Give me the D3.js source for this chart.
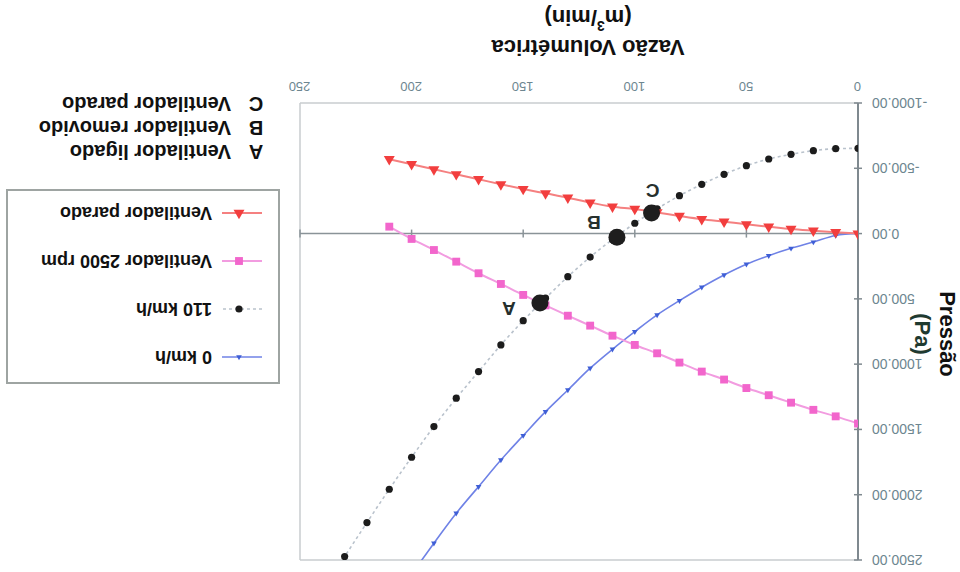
<!DOCTYPE html>
<html>
<head>
<meta charset="utf-8">
<script src="https://cdn.jsdelivr.net/npm/d3@7"></script>
<style>
  body { margin: 0; background: #fff; }
  svg { display: block; font-family: "Liberation Sans", Arial, sans-serif; }
</style>
</head>
<body>
<script>
// DATA (vazão in m3/min, pressão in Pa)
const flowShort = [0, 10, 20, 30, 40, 50, 60, 70, 80, 90, 100, 110, 120, 130, 140, 150, 160, 170, 180, 190, 200, 210];
const flowKmh0 = [0, 10, 20, 30, 40, 50, 60, 70, 80, 90, 100, 110, 120, 130, 140, 150, 160, 170, 180, 190, 200];
const flowKmh110 = [0, 10, 20, 30, 40, 50, 60, 70, 80, 90, 100, 110, 120, 130, 140, 150, 160, 170, 180, 190, 200, 210, 220, 230];

const kmh0 = [0, 15, 65, 113, 169, 235, 317, 411, 514, 623, 751, 886, 1031, 1198, 1364, 1547, 1734, 1938, 2142, 2371, 2610];
const kmh110 = [-653, -650, -635, -607, -571, -520, -454, -377, -290, -190, -79, 45, 180, 330, 495, 667, 853, 1057, 1261, 1478, 1713, 1958, 2213, 2474];
const vent2500 = [1455, 1400, 1350, 1295, 1238, 1183, 1118, 1057, 988, 917, 853, 782, 705, 629, 550, 470, 386, 304, 215, 126, 41, -53];
const ventParado = [0, -10, -22, -35, -53, -71, -91, -110, -135, -162, -188, -206, -237, -275, -308, -341, -377, -416, -454, -492, -531, -569];

const opPoints = [
  { label: "A", x: 142.5, y: 532 },
  { label: "B", x: 108, y: 28 },
  { label: "C", x: 92.5, y: -158 }
];
const opNotes = [
  { label: "A", text: "Ventilador ligado" },
  { label: "B", text: "Ventilador removido" },
  { label: "C", text: "Ventilador parado" }
];

const xTicks = [0, 50, 100, 150, 200, 250];
const yTicks = [-1000, -500, 0, 500, 1000, 1500, 2000, 2500];

const series = [
  { name: "0 km/h", xs: flowKmh0, ys: kmh0, line: "#6f82e6", width: 1.6, dash: null, marker: "tri-small", fill: "#3f5fd6" },
  { name: "110 km/h", xs: flowKmh110, ys: kmh110, line: "#b9c2cc", width: 1.6, dash: "3,3", marker: "dot", fill: "#1c1c1c" },
  { name: "Ventilador 2500 rpm", xs: flowShort, ys: vent2500, line: "#f29ce0", width: 2, dash: null, marker: "square", fill: "#f266cc" },
  { name: "Ventilador parado", xs: flowShort, ys: ventParado, line: "#f58080", width: 2, dash: null, marker: "tri", fill: "#f23e3e" }
];

// CHART SETUP (drawn upright, then turned 180 degrees like the reference)
const width = 960, height = 572;
const plot = { left: 102, right: 660, top: 12, bottom: 469 };

const xScale = d3.scaleLinear().domain([0, 250]).range([plot.left, plot.right]);
const yScale = d3.scaleLinear().domain([-1000, 2500]).range([plot.bottom, plot.top]);

const svg = d3.select("body").append("svg").attr("width", width).attr("height", height);
svg.append("rect").attr("width", width).attr("height", height).attr("fill", "#fff");

const chart = svg.append("g").attr("transform", `rotate(180 ${width / 2} ${height / 2})`);

svg.append("defs").append("clipPath").attr("id", "plot-clip")
  .append("rect")
  .attr("x", plot.left).attr("y", plot.top)
  .attr("width", plot.right - plot.left).attr("height", plot.bottom - plot.top);

// PLOT FRAME
const frame = chart.append("g").attr("stroke", "#c9cccf").attr("stroke-width", 1.5).attr("fill", "none");
frame.append("line").attr("x1", plot.left).attr("x2", plot.right).attr("y1", plot.top).attr("y2", plot.top);
frame.append("line").attr("x1", plot.left).attr("x2", plot.right).attr("y1", plot.bottom).attr("y2", plot.bottom);
frame.append("line").attr("x1", plot.right).attr("x2", plot.right).attr("y1", plot.top).attr("y2", plot.bottom);

// AXES
const yAxis = d3.axisLeft(yScale).tickValues(yTicks).tickSize(0).tickPadding(14)
  .tickFormat(d => d.toFixed(2));
const xAxis = d3.axisBottom(xScale).tickValues(xTicks).tickSize(0).tickPadding(12)
  .tickFormat(d3.format("d"));

const yAxisG = chart.append("g").attr("transform", `translate(${plot.left},0)`).call(yAxis);
const xAxisG = chart.append("g").attr("transform", `translate(0,${plot.bottom})`).call(xAxis);
[yAxisG, xAxisG].forEach(g => {
  g.select(".domain").remove();
  g.selectAll("text").attr("fill", "#6d8690").style("font-family", "Liberation Sans, Arial");
});
yAxisG.selectAll("text").attr("font-size", 14);
xAxisG.selectAll("text").attr("font-size", 13);

// zero line (x axis) and y axis line with cross ticks
chart.append("line")
  .attr("x1", plot.left).attr("x2", plot.right)
  .attr("y1", yScale(0)).attr("y2", yScale(0))
  .attr("stroke", "#8a9398").attr("stroke-width", 1.5);
chart.append("g").selectAll("line").data(xTicks.slice(1)).join("line")
  .attr("x1", d => xScale(d)).attr("x2", d => xScale(d))
  .attr("y1", yScale(0) - 4).attr("y2", yScale(0) + 4)
  .attr("stroke", "#8a9398").attr("stroke-width", 1.5);

chart.append("line")
  .attr("x1", plot.left).attr("x2", plot.left)
  .attr("y1", plot.top).attr("y2", plot.bottom)
  .attr("stroke", "#7f898f").attr("stroke-width", 2);
chart.append("g").selectAll("line").data(yTicks).join("line")
  .attr("x1", plot.left - 4).attr("x2", plot.left + 4)
  .attr("y1", d => yScale(d)).attr("y2", d => yScale(d))
  .attr("stroke", "#7f898f").attr("stroke-width", 1.5);

// MARKERS
const drawMarker = (sel, kind, fill) => {
  if (kind === "dot") {
    sel.append("circle").attr("r", 3.6).attr("fill", fill);
  } else {
    const sym = kind === "square" ? d3.symbolSquare : d3.symbolTriangle;
    const size = kind === "square" ? 62 : kind === "tri" ? 52 : 14;
    sel.append("path").attr("d", d3.symbol(sym, size)()).attr("fill", fill);
  }
};

// SERIES
const seriesG = chart.append("g").attr("clip-path", "url(#plot-clip)");
series.forEach(s => {
  const pts = s.xs.map((x, i) => ({ x, y: s.ys[i] }));
  const line = d3.line().x(d => xScale(d.x)).y(d => yScale(d.y)).curve(d3.curveMonotoneX);
  seriesG.append("path")
    .attr("d", line(pts))
    .attr("fill", "none")
    .attr("stroke", s.line)
    .attr("stroke-width", s.width)
    .attr("stroke-dasharray", s.dash);
  seriesG.append("g").selectAll("g").data(pts).join("g")
    .attr("transform", d => `translate(${xScale(d.x)},${yScale(d.y)})`)
    .each(function () { drawMarker(d3.select(this), s.marker, s.fill); });
});

// OPERATING POINTS A, B, C
const labelOffset = { A: [31, -5], B: [23, 15], C: [-1, 22] };
const opG = chart.append("g").selectAll("g").data(opPoints).join("g")
  .attr("transform", d => `translate(${xScale(d.x)},${yScale(d.y)})`);
opG.append("circle").attr("r", 8.5).attr("fill", "#1e1e1e");
opG.append("text")
  .attr("x", d => labelOffset[d.label][0])
  .attr("y", d => labelOffset[d.label][1])
  .attr("text-anchor", "middle")
  .attr("dominant-baseline", "central")
  .attr("font-size", 19).attr("font-weight", "bold").attr("fill", "#26302e")
  .text(d => d.label);

// AXIS TITLES
chart.append("text")
  .attr("x", 372).attr("y", 525)
  .attr("text-anchor", "middle").attr("dominant-baseline", "central")
  .attr("font-size", 22).attr("font-weight", "bold").attr("fill", "#111")
  .text("Vazão Volumétrica");
const xUnit = chart.append("text")
  .attr("x", 372).attr("y", 554)
  .attr("text-anchor", "middle").attr("dominant-baseline", "central")
  .attr("font-size", 22).attr("font-weight", "bold").attr("fill", "#111");
xUnit.append("tspan").text("(m");
xUnit.append("tspan").attr("font-size", 14).attr("dy", -8).text("3");
xUnit.append("tspan").attr("dy", 8).text("/min)");

const yTitle = chart.append("g").attr("transform", "translate(13,238) rotate(-90)");
yTitle.append("text")
  .attr("text-anchor", "middle").attr("dominant-baseline", "central")
  .attr("font-size", 22).attr("font-weight", "bold").attr("fill", "#111")
  .text("Pressão");
yTitle.append("text")
  .attr("y", 25)
  .attr("text-anchor", "middle").attr("dominant-baseline", "central")
  .attr("font-size", 22).attr("font-weight", "bold").attr("fill", "#1f3a30")
  .text("(Pa)");

// LEGEND
const legend = chart.append("g").attr("transform", "translate(681,189)");
legend.append("rect")
  .attr("width", 272).attr("height", 193)
  .attr("fill", "#fff").attr("stroke", "#9ea4a2").attr("stroke-width", 2);
const legendRows = legend.selectAll("g.row").data(series).join("g")
  .attr("class", "row")
  .attr("transform", (d, i) => `translate(0,${26 + i * 48})`);
legendRows.append("line")
  .attr("x1", 17).attr("x2", 57)
  .attr("stroke", d => d.line).attr("stroke-width", d => d.width)
  .attr("stroke-dasharray", d => d.dash);
legendRows.append("g").attr("transform", "translate(40,0)")
  .each(function (d) { drawMarker(d3.select(this), d.marker, d.fill); });
legendRows.append("text")
  .attr("x", 67).attr("dominant-baseline", "central")
  .attr("font-size", 18).attr("font-weight", "bold").attr("fill", "#111")
  .text(d => d.name);

// NOTES
const notes = chart.append("g").selectAll("g").data(opNotes).join("g")
  .attr("transform", (d, i) => `translate(0,${420 + i * 24})`);
notes.append("text")
  .attr("x", 704).attr("text-anchor", "middle").attr("dominant-baseline", "central")
  .attr("font-size", 20).attr("font-weight", "bold").attr("fill", "#111")
  .text(d => d.label);
notes.append("text")
  .attr("x", 729).attr("dominant-baseline", "central")
  .attr("font-size", 20).attr("font-weight", "bold").attr("fill", "#111")
  .text(d => d.text);
</script>
</body>
</html>
